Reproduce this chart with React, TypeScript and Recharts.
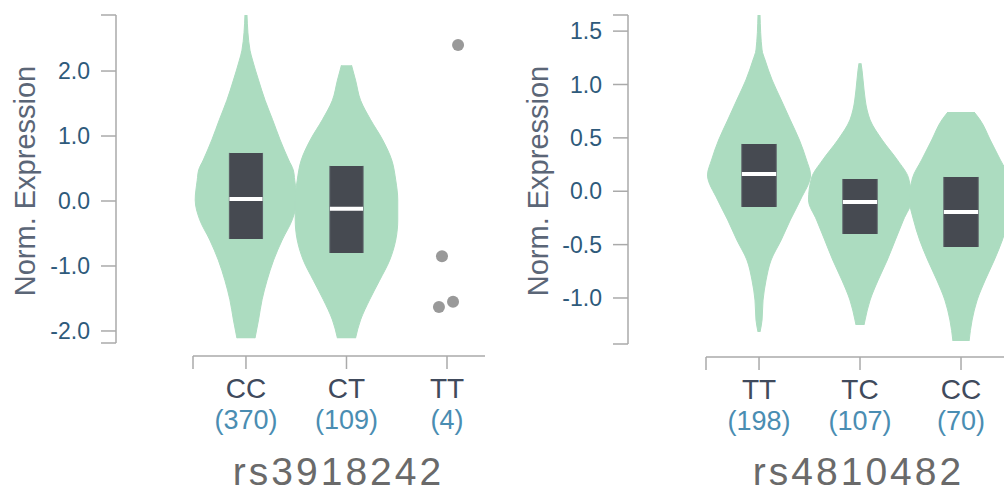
import React from 'react';
import { ComposedChart, Area, XAxis, YAxis, ReferenceLine, ReferenceDot } from 'recharts';

const FONT = '"Liberation Sans", Arial, Helvetica, sans-serif';
const AXIS = '#aaaaaa';
const VIOLIN = '#acdcc0';
const BOX = '#464a51';
const TICK_TXT = '#2e5a7b';
const TITLE_TXT = '#5b6677';
const GENO_TXT = '#404a5c';
const COUNT_TXT = '#4a8db2';
const SNP_TXT = '#6a6a6a';

// ---------- Panel 1: rs3918242 ----------
const snp1 = 'rs3918242';
const genotypes1 = ['CC', 'CT', 'TT'];
const counts1 = [370, 109, 4];
const yTicks1 = [-2, -1, 0, 1, 2];
const yDomain1: [number, number] = [-2.185, 2.862];
const xDomain1: [number, number] = [0.473, 3.378];

const cc1Levels = [2.862, 2.32, 2.17, 1.86, 1.55, 1.25, 0.94, 0.63, 0.48, 0.32, 0.015, -0.29, -0.6, -0.91, -1.22, -1.52, -1.83, -2.11];
const cc1Widths = [0.01, 0.04, 0.065, 0.125, 0.19, 0.265, 0.34, 0.425, 0.47, 0.485, 0.505, 0.46, 0.36, 0.275, 0.21, 0.16, 0.125, 0.09];
const ct1Levels = [2.09, 1.86, 1.55, 1.25, 0.94, 0.63, 0.32, 0.015, -0.29, -0.6, -0.91, -1.22, -1.52, -1.83, -2.11];
const ct1Widths = [0.05, 0.09, 0.14, 0.24, 0.36, 0.45, 0.49, 0.51, 0.51, 0.49, 0.43, 0.33, 0.23, 0.14, 0.09];

const q3_1 = [0.74, 0.54];
const median1 = [0.03, -0.12];
const q1_1 = [-0.585, -0.8];

const tt1Values = [2.4, -0.85, -1.63, -1.55];
const tt1Jitter = [0.11, -0.05, -0.08, 0.06];

// ---------- Panel 2: rs4810482 ----------
const snp2 = 'rs4810482';
const genotypes2 = ['TT', 'TC', 'CC'];
const counts2 = [198, 107, 70];
const yTicks2 = [-1, -0.5, 0, 0.5, 1, 1.5];
const yDomain2: [number, number] = [-1.431, 1.651];
const xDomain2: [number, number] = [0.475, 3.495];

const tt2Levels = [1.651, 1.323, 1.229, 1.042, 0.855, 0.667, 0.48, 0.293, 0.153, -0.081, -0.269, -0.456, -0.644, -0.831, -1.019, -1.206, -1.318];
const tt2Widths = [0.01, 0.03, 0.06, 0.13, 0.22, 0.31, 0.4, 0.47, 0.51, 0.41, 0.31, 0.22, 0.12, 0.07, 0.04, 0.03, 0.01];
const tc2Levels = [1.199, 1.134, 0.948, 0.761, 0.667, 0.48, 0.293, 0.125, -0.081, -0.269, -0.456, -0.644, -0.831, -1.019, -1.206, -1.252];
const tc2Widths = [0.01, 0.02, 0.04, 0.07, 0.1, 0.22, 0.37, 0.48, 0.51, 0.43, 0.35, 0.27, 0.18, 0.1, 0.05, 0.04];
const cc2Levels = [0.742, 0.667, 0.48, 0.293, 0.125, -0.081, -0.269, -0.456, -0.644, -0.831, -1.019, -1.206, -1.403];
const cc2Widths = [0.13, 0.19, 0.29, 0.39, 0.48, 0.51, 0.47, 0.41, 0.33, 0.24, 0.16, 0.11, 0.08];

const q3_2 = [0.443, 0.115, 0.134];
const median2 = [0.162, -0.1, -0.194];
const q1_2 = [-0.147, -0.4, -0.522];

type Row = { v: number; r: [number, number] };

const MAIN = 'b_main';
const SPACER = 'a_spacer';

function violinRows(pos: number, levels: number[], widths: number[]): Row[] {
  return levels.map((v, i) => ({ v, r: [pos - widths[i], pos + widths[i]] as [number, number] }));
}

function boxRows(pos: number, half: number, lo: number, hi: number): Row[] {
  return [
    { v: hi, r: [pos - half, pos + half] },
    { v: lo, r: [pos - half, pos + half] },
  ];
}

function CatTick(props: any) {
  const { x, y, payload, genotypes, counts } = props;
  const val = payload ? payload.value : 0;
  const idx = Math.round(val) - 1;
  if (Math.abs(val - (idx + 1)) > 0.01 || idx < 0 || idx >= genotypes.length) return <g />;
  return (
    <g>
      <text x={x} y={y + 29} textAnchor="middle" fill={GENO_TXT} fontSize={28} fontFamily={FONT}>
        {genotypes[idx]}
      </text>
      <text x={x} y={y + 60} textAnchor="middle" fill={COUNT_TXT} fontSize={27} fontFamily={FONT}>
        ({counts[idx]})
      </text>
    </g>
  );
}

function YTitle(props: any) {
  const { tx, ty } = props;
  return (
    <text
      x={tx}
      y={ty}
      transform={`rotate(-90, ${tx}, ${ty})`}
      textAnchor="middle"
      fill={TITLE_TXT}
      fontSize={29}
      fontFamily={FONT}
    >
      Norm. Expression
    </text>
  );
}

function SnpTitle(props: any) {
  const { tx, ty, text } = props;
  return (
    <text x={tx} y={ty} textAnchor="middle" fill={SNP_TXT} fontSize={39} letterSpacing={3} fontFamily={FONT}>
      {text}
    </text>
  );
}

type PanelProps = {
  left: number;
  width: number;
  marginRight: number;
  yAxisW: number;
  spacerW: number;
  xAxisH: number;
  yDomain: [number, number];
  xDomain: [number, number];
  yTicks: number[];
  genotypes: string[];
  counts: number[];
  violins: Row[][];
  boxes: Row[][];
  medians: number[];
  half: number;
  dots: { x: number; y: number }[];
  snp: string;
  yTitleX: number;
  snpX: number;
};

function Panel(p: PanelProps) {
  const yTickList = [p.yDomain[0], ...p.yTicks, p.yDomain[1]];
  const xTickList = [p.xDomain[0], ...p.genotypes.map((_, i) => i + 1)];
  return (
    <div style={{ position: 'absolute', left: p.left, top: 0 }}>
      <ComposedChart
        layout="vertical"
        width={p.width}
        height={492}
        margin={{ top: 15, right: p.marginRight, bottom: 0, left: 0 }}
      >
        <XAxis
          xAxisId={SPACER}
          type="number"
          domain={p.xDomain}
          allowDataOverflow
          height={13}
          tick={false}
          axisLine={false}
          tickLine={false}
        />
        <XAxis
          xAxisId={MAIN}
          type="number"
          domain={p.xDomain}
          allowDataOverflow
          height={p.xAxisH}
          ticks={xTickList}
          interval={0}
          tickSize={13}
          tickMargin={0}
          tick={<CatTick genotypes={p.genotypes} counts={p.counts} />}
          axisLine={{ stroke: AXIS, strokeWidth: 1.5 }}
          tickLine={{ stroke: AXIS, strokeWidth: 1.5 }}
          label={<SnpTitle tx={p.snpX} ty={485} text={p.snp} />}
        />
        <YAxis
          yAxisId={SPACER}
          type="number"
          dataKey="v"
          domain={p.yDomain}
          reversed
          allowDataOverflow
          width={p.spacerW}
          tick={false}
          axisLine={false}
          tickLine={false}
        />
        <YAxis
          yAxisId={MAIN}
          type="number"
          dataKey="v"
          domain={p.yDomain}
          reversed
          allowDataOverflow
          width={p.yAxisW}
          ticks={yTickList}
          interval={0}
          tickSize={15}
          tickMargin={11}
          tick={{ fill: TICK_TXT, fontSize: 23, fontFamily: FONT }}
          tickFormatter={(v: number) => (p.yTicks.indexOf(v) >= 0 ? v.toFixed(1) : '')}
          axisLine={{ stroke: AXIS, strokeWidth: 1.5 }}
          tickLine={{ stroke: AXIS, strokeWidth: 1.5 }}
          label={<YTitle tx={p.yTitleX} ty={181} />}
        />
        {p.violins.map((rows, i) => (
          <Area
            key={`v${i}`}
            data={rows}
            xAxisId={MAIN}
            yAxisId={MAIN}
            dataKey="r"
            type="monotone"
            fill={VIOLIN}
            fillOpacity={1}
            stroke={VIOLIN}
            strokeWidth={1}
            isAnimationActive={false}
            dot={false}
            activeDot={false}
          />
        ))}
        {p.boxes.map((rows, i) => (
          <Area
            key={`b${i}`}
            data={rows}
            xAxisId={MAIN}
            yAxisId={MAIN}
            dataKey="r"
            type="linear"
            fill={BOX}
            fillOpacity={1}
            stroke="#5a5e66"
            strokeWidth={1}
            isAnimationActive={false}
            dot={false}
            activeDot={false}
          />
        ))}
        {p.medians.map((m, i) => (
          <ReferenceLine
            key={`m${i}`}
            xAxisId={MAIN}
            yAxisId={MAIN}
            segment={[
              { x: i + 1 - p.half, y: m },
              { x: i + 1 + p.half, y: m },
            ]}
            stroke="#ffffff"
            strokeWidth={4}
            zIndex={800}
          />
        ))}
        {p.dots.map((d, i) => (
          <ReferenceDot
            key={`d${i}`}
            xAxisId={MAIN}
            yAxisId={MAIN}
            x={d.x}
            y={d.y}
            r={6}
            fill="#999999"
            stroke="none"
            zIndex={800}
          />
        ))}
      </ComposedChart>
    </div>
  );
}

export default function App() {
  const half1 = 0.165;
  const half2 = 0.17;
  const violins1 = [violinRows(1, cc1Levels, cc1Widths), violinRows(2, ct1Levels, ct1Widths)];
  const boxes1 = q3_1.map((q, i) => boxRows(i + 1, half1, q1_1[i], q));
  const dots1 = tt1Values.map((v, i) => ({ x: 3 + tt1Jitter[i], y: v }));

  const violins2 = [
    violinRows(1, tt2Levels, tt2Widths),
    violinRows(2, tc2Levels, tc2Widths),
    violinRows(3, cc2Levels, cc2Widths),
  ];
  const boxes2 = q3_2.map((q, i) => boxRows(i + 1, half2, q1_2[i], q));

  return (
    <div
      style={{
        position: 'fixed',
        left: 0,
        top: 0,
        width: 1004,
        height: 492,
        overflow: 'hidden',
        background: '#ffffff',
      }}
    >
      <Panel
        left={0}
        width={500}
        marginRight={15}
        yAxisW={116}
        spacerW={77}
        xAxisH={136}
        yDomain={yDomain1}
        xDomain={xDomain1}
        yTicks={yTicks1}
        genotypes={genotypes1}
        counts={counts1}
        violins={violins1}
        boxes={boxes1}
        medians={median1}
        half={half1}
        dots={dots1}
        snp={snp1}
        yTitleX={35}
        snpX={338.5}
      />
      <Panel
        left={500}
        width={520}
        marginRight={9}
        yAxisW={128}
        spacerW={78}
        xAxisH={135}
        yDomain={yDomain2}
        xDomain={xDomain2}
        yTicks={yTicks2}
        genotypes={genotypes2}
        counts={counts2}
        violins={violins2}
        boxes={boxes2}
        medians={median2}
        half={half2}
        dots={[]}
        snp={snp2}
        yTitleX={48}
        snpX={358.5}
      />
    </div>
  );
}
